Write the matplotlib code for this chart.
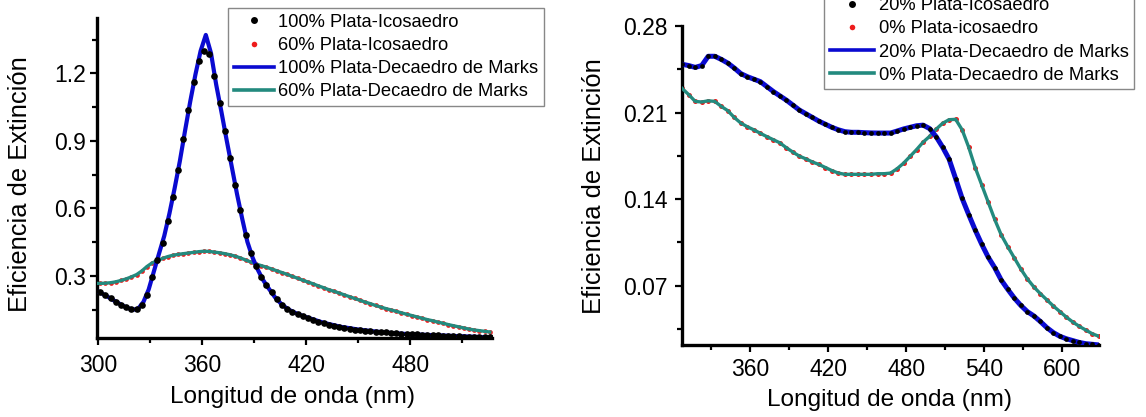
import numpy as np
import matplotlib.pyplot as plt
from matplotlib.ticker import AutoMinorLocator
from matplotlib.lines import Line2D

plt.rcParams['font.family'] = ['Liberation Sans', 'DejaVu Sans']

# ---- left panel: 100% and 60% silver ----
wl_left = np.arange(298, 527, 3)
ico100 = [0.238, 0.228, 0.214, 0.200, 0.186, 0.172, 0.160, 0.152, 0.152, 0.171,
          0.215, 0.295, 0.370, 0.448, 0.544, 0.650, 0.771, 0.907, 1.037, 1.160,
          1.256, 1.300, 1.286, 1.190, 1.070, 0.945, 0.823, 0.704, 0.593, 0.482,
          0.400, 0.345, 0.295, 0.258, 0.228, 0.197, 0.172, 0.155, 0.142, 0.131,
          0.122, 0.113, 0.105, 0.097, 0.090, 0.084, 0.078, 0.073, 0.069, 0.065,
          0.062, 0.059, 0.057, 0.055, 0.053, 0.051, 0.049, 0.047, 0.045, 0.044,
          0.042, 0.041, 0.040, 0.039, 0.038, 0.037, 0.036, 0.035, 0.034, 0.033,
          0.032, 0.031, 0.030, 0.029, 0.028, 0.028, 0.027]
ico60 = [0.267, 0.267, 0.268, 0.270, 0.274, 0.280, 0.287, 0.296, 0.306, 0.322,
         0.342, 0.358, 0.368, 0.378, 0.386, 0.392, 0.396, 0.399, 0.402, 0.405,
         0.408, 0.410, 0.409, 0.406, 0.403, 0.399, 0.394, 0.388, 0.380, 0.371,
         0.362, 0.353, 0.346, 0.339, 0.331, 0.323, 0.315, 0.307, 0.298, 0.290,
         0.281, 0.273, 0.265, 0.256, 0.248, 0.239, 0.232, 0.224, 0.216, 0.208,
         0.200, 0.192, 0.184, 0.177, 0.169, 0.162, 0.155, 0.149, 0.143, 0.136,
         0.130, 0.124, 0.118, 0.112, 0.106, 0.101, 0.095, 0.090, 0.084, 0.079,
         0.074, 0.069, 0.064, 0.060, 0.057, 0.054, 0.051]
dec60 = ico60

wl_dec100 = [298, 304, 310, 316, 320, 323, 326, 329, 332, 335,
             338, 341, 344, 347, 350, 353, 356, 359, 362, 365,
             368, 371, 374, 377, 380, 383, 386, 389, 392, 395,
             398, 402, 406, 410, 415, 420, 430, 440, 450, 460,
             470, 480, 490, 500, 510, 526]
dec100 = [0.238, 0.214, 0.186, 0.160, 0.150, 0.155, 0.185, 0.240, 0.320, 0.400,
          0.478, 0.578, 0.690, 0.810, 0.945, 1.075, 1.195, 1.300, 1.371, 1.290,
          1.150, 1.030, 0.905, 0.785, 0.665, 0.555, 0.452, 0.382, 0.328, 0.283,
          0.248, 0.205, 0.172, 0.150, 0.131, 0.117, 0.092, 0.074, 0.062, 0.053,
          0.046, 0.041, 0.038, 0.035, 0.032, 0.027]

# ---- right panel: 20% and 0% silver ----
wl_right = np.arange(308, 629, 5)
ico20 = [0.249, 0.248, 0.2465, 0.248, 0.2555, 0.2555, 0.253, 0.250, 0.246, 0.2415,
         0.239, 0.237, 0.235, 0.231, 0.227, 0.2235, 0.220, 0.216, 0.212, 0.209,
         0.206, 0.203, 0.2005, 0.198, 0.196, 0.1945, 0.194, 0.194, 0.1937, 0.1935,
         0.1934, 0.1934, 0.1934, 0.195, 0.1967, 0.198, 0.1993, 0.1998, 0.197, 0.1905,
         0.182, 0.1722, 0.1565, 0.1405, 0.1275, 0.115, 0.1035, 0.093, 0.0845, 0.0745,
         0.067, 0.060, 0.054, 0.049, 0.0455, 0.041, 0.036, 0.032, 0.029, 0.027,
         0.0255, 0.024, 0.023, 0.0225, 0.022]
ico0 = [0.2295, 0.2245, 0.219, 0.2185, 0.2195, 0.219, 0.215, 0.2115, 0.206, 0.2015,
        0.1985, 0.196, 0.1932, 0.1905, 0.188, 0.1855, 0.1815, 0.178, 0.1747, 0.1725,
        0.170, 0.168, 0.1655, 0.163, 0.161, 0.160, 0.160, 0.160, 0.160, 0.160,
        0.1605, 0.1605, 0.161, 0.1645, 0.169, 0.1745, 0.180, 0.186, 0.1907, 0.1965,
        0.2013, 0.2042, 0.2045, 0.196, 0.182, 0.1655, 0.1515, 0.1375, 0.1235, 0.111,
        0.1015, 0.0925, 0.0835, 0.0755, 0.069, 0.0635, 0.0585, 0.0535, 0.049, 0.0445,
        0.0405, 0.037, 0.034, 0.031, 0.029]
dec20 = ico20
dec0 = ico0

BLUE = '#0a0ad0'
TEAL = '#238a7e'
RED = '#ee1c1c'

fig = plt.figure(figsize=(11.46, 4.17), dpi=100)
ax1 = fig.add_axes([0.0844, 0.1887, 0.3445, 0.768])
ax2 = fig.add_axes([0.5948, 0.1737, 0.3641, 0.764])


def style(ax):
    for s in ['top', 'right']:
        ax.spines[s].set_visible(False)
    for s in ['left', 'bottom']:
        ax.spines[s].set_linewidth(2.4)
    ax.xaxis.set_minor_locator(AutoMinorLocator(2))
    ax.yaxis.set_minor_locator(AutoMinorLocator(2))
    ax.tick_params(which='major', direction='out', length=5, width=1.6, labelsize=16.5)
    ax.tick_params(which='minor', direction='out', length=3.5, width=1.6)
    ax.tick_params(axis='x', pad=6)
    ax.tick_params(axis='y', pad=3)
    ax.set_xlabel('Longitud de onda (nm)', fontsize=17.6)
    ax.set_ylabel('Eficiencia de Extinción', fontsize=18.4)


# left
ax1.plot(wl_left, ico60, 'o', color=RED, ms=3.4, mew=0, zorder=2)
ax1.plot(wl_left, dec60, '-', color=TEAL, lw=2.4, zorder=3)
ax1.plot(wl_dec100, dec100, '-', color=BLUE, lw=3.0, zorder=4)
ax1.plot(wl_left, ico100, 'o', color='black', ms=4.8, mew=0, zorder=5)
ax1.set_xlim(299, 527)
ax1.set_ylim(0.023, 1.446)
ax1.set_xticks([300, 360, 420, 480])
ax1.set_yticks([0.3, 0.6, 0.9, 1.2])
style(ax1)
ax1.xaxis.set_label_coords(0.497, -0.148)
ax1.yaxis.set_label_coords(-0.165, 0.48)

h1 = [Line2D([], [], ls='none', marker='o', color='black', ms=5, mew=0),
      Line2D([], [], ls='none', marker='o', color=RED, ms=4, mew=0),
      Line2D([], [], color=BLUE, lw=2.6),
      Line2D([], [], color=TEAL, lw=2.6)]
l1 = ['100% Plata-Icosaedro', '60% Plata-Icosaedro',
      '100% Plata-Decaedro de Marks', '60% Plata-Decaedro de Marks']
fig.legend(h1, l1, loc='lower left', bbox_to_anchor=(228 / 1146, 1 - 106 / 417),
           bbox_transform=fig.transFigure, fontsize=13.2, frameon=True, fancybox=False,
           edgecolor='#888888', framealpha=1, borderpad=0.3, labelspacing=0.34,
           handlelength=2.2, handletextpad=0.25, borderaxespad=0)

# right
ax2.plot(wl_right, ico0, 'o', color=RED, ms=3.6, mew=0, zorder=2)
ax2.plot(wl_right, dec0, '-', color=TEAL, lw=2.4, zorder=3)
ax2.plot(wl_right, dec20, '-', color=BLUE, lw=3.6, zorder=4)
ax2.plot(wl_right, ico20, 'o', color='black', ms=3.4, mew=0, zorder=5)
ax2.set_xlim(307.6, 628)
ax2.set_ylim(0.0223, 0.28)
ax2.set_xticks([360, 420, 480, 540, 600])
ax2.set_yticks([0.07, 0.14, 0.21, 0.28])
style(ax2)
ax2.tick_params(axis='y', pad=5)
ax2.tick_params(axis='x', pad=5)
ax2.xaxis.set_label_coords(0.498, -0.14)
ax2.yaxis.set_label_coords(-0.181, 0.496)

# the top row of this legend sits partly above the figure, as in the source
h2 = [Line2D([], [], ls='none', marker='o', color='black', ms=5, mew=0),
      Line2D([], [], ls='none', marker='o', color=RED, ms=4, mew=0),
      Line2D([], [], color=BLUE, lw=2.6),
      Line2D([], [], color=TEAL, lw=2.6)]
l2 = ['20% Plata-Icosaedro', '0% Plata-icosaedro',
      '20% Plata-Decaedro de Marks', '0% Plata-Decaedro de Marks']
fig.legend(h2, l2, loc='lower left', bbox_to_anchor=(824 / 1146, 1 - 89.3 / 417),
           bbox_transform=fig.transFigure, fontsize=13.2, frameon=True, fancybox=False,
           edgecolor='#888888', framealpha=1, borderpad=0.3, labelspacing=0.34,
           handlelength=2.45, handletextpad=0.25, borderaxespad=0)

fig.savefig('out.png', dpi=100)
